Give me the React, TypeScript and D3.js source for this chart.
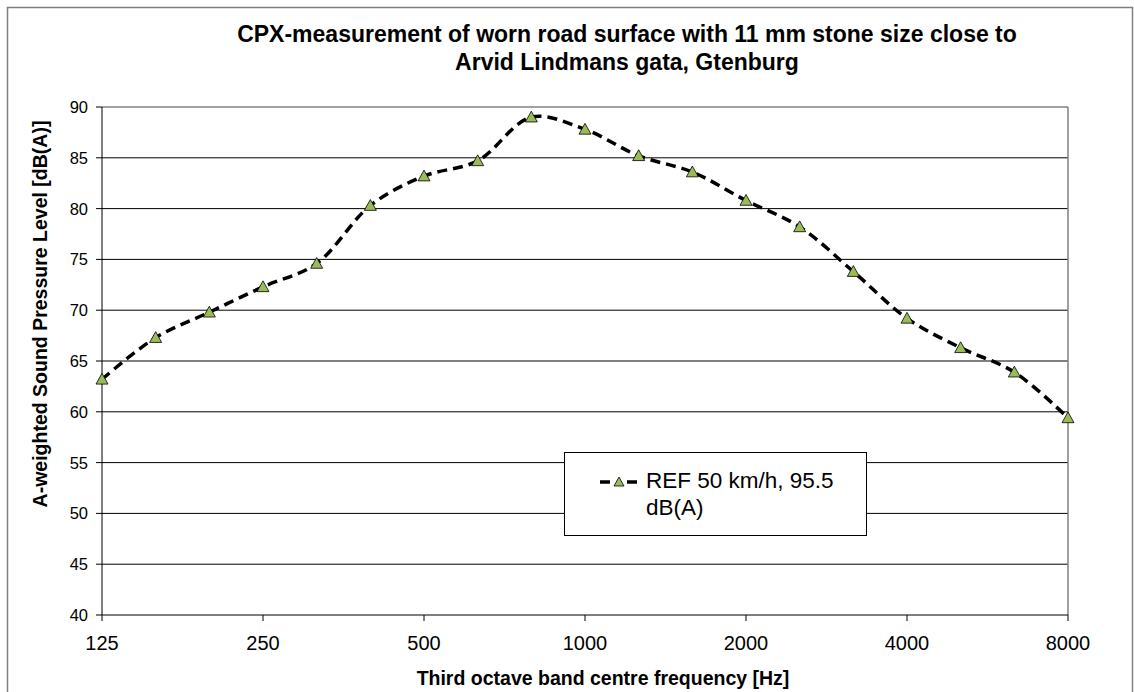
import React from 'react';
import * as d3 from 'd3';

const frequencies = ['125','160','200','250','315','400','500','630','800','1000','1250','1600','2000','2500','3150','4000','5000','6300','8000'];
const levels = [63.2, 67.3, 69.8, 72.3, 74.6, 80.3, 83.2, 84.7, 89.0, 87.8, 85.2, 83.6, 80.8, 78.2, 73.8, 69.2, 66.3, 63.9, 59.4];
const xTickLabels = ['125','250','500','1000','2000','4000','8000'];
const yTicks = [40,45,50,55,60,65,70,75,80,85,90];
const titleLines = ['CPX-measurement of worn road surface with 11 mm stone size close to', 'Arvid Lindmans gata, Gtenburg'];
const seriesName = ['REF 50 km/h, 95.5', 'dB(A)'];

const W = 1134, H = 692;
const L = 102, R = 1068, T = 107, B = 615;
const FONT = '"Liberation Sans", Arial, sans-serif';

export default function App() {
  const x = d3.scalePoint<string>().domain(frequencies).range([L, R]);
  const y = d3.scaleLinear().domain([40, 90]).range([B, T]);
  const pts = frequencies.map((f, i) => [x(f) as number, y(levels[i])] as [number, number]);
  const line = d3.line().curve(d3.curveCatmullRom.alpha(0.5))(pts) || '';
  const tri = (cx: number, cy: number, s = 6) => `M${cx},${cy - s}L${cx + s},${cy + s * 0.8}L${cx - s},${cy + s * 0.8}Z`;

  const lx = 564, ly = 452, lw = 302, lh = 83;
  return (
    <svg width={W} height={H} style={{ position: 'absolute', left: 0, top: 0, background: '#fff' }} fontFamily={FONT}>
      <rect x={7.5} y={7.5} width={1125} height={690} fill="#fff" stroke="#808080" strokeWidth={1.5} />
      {titleLines.map((t, i) => (
        <text key={i} x={627} y={42 + i * 28} textAnchor="middle" fontWeight="bold" fontSize={23} fill="#000">{t}</text>
      ))}
      {/* gridlines */}
      {yTicks.filter(v => v > 40 && v < 90).map(v => (
        <line key={v} x1={L} x2={R} y1={y(v)} y2={y(v)} stroke="#000" strokeWidth={1} />
      ))}
      <line x1={L} x2={R} y1={T} y2={T} stroke="#808080" strokeWidth={1.5} />
      <line x1={R} x2={R} y1={T} y2={B} stroke="#808080" strokeWidth={1.5} />
      {/* axes */}
      <line x1={L} x2={L} y1={T} y2={B} stroke="#000" strokeWidth={1} />
      <line x1={L} x2={R} y1={B} y2={B} stroke="#000" strokeWidth={1} />
      {yTicks.map(v => (
        <g key={v}>
          <line x1={L - 6} x2={L} y1={y(v)} y2={y(v)} stroke="#000" />
          <text x={88} y={y(v) + 6} textAnchor="end" fontSize={16.5} fill="#000">{v}</text>
        </g>
      ))}
      {xTickLabels.map(f => (
        <g key={f}>
          <line x1={x(f)} x2={x(f)} y1={B} y2={B + 6} stroke="#000" />
          <text x={x(f)} y={650} textAnchor="middle" fontSize={20} fill="#000">{f}</text>
        </g>
      ))}
      <text x={603} y={685} textAnchor="middle" fontWeight="bold" fontSize={19.5} fill="#000">Third octave band centre frequency [Hz]</text>
      <text transform={`translate(47,314) rotate(-90)`} textAnchor="middle" fontWeight="bold" fontSize={19.5} fill="#000">A-weighted Sound Pressure Level [dB(A)]</text>
      {/* series */}
      <path d={line} fill="none" stroke="#000" strokeWidth={3.5} strokeDasharray="10,6" />
      {pts.map(([px, py], i) => (
        <path key={i} d={tri(px, py)} fill="#9BBB59" stroke="#000" strokeWidth={0.8} />
      ))}
      {/* legend */}
      <rect x={lx + 0.5} y={ly + 0.5} width={lw} height={lh} fill="#fff" stroke="#000" strokeWidth={1} />
      <line x1={600} x2={637} y1={482} y2={482} stroke="#000" strokeWidth={3.5} strokeDasharray="10,17,10" />
      <path d={tri(619, 482, 5)} fill="#9BBB59" stroke="#000" strokeWidth={0.8} />
      <text x={646} y={488} fontSize={22.5} fill="#000">{seriesName[0]}</text>
      <text x={646} y={515} fontSize={22.5} fill="#000">{seriesName[1]}</text>
    </svg>
  );
}
